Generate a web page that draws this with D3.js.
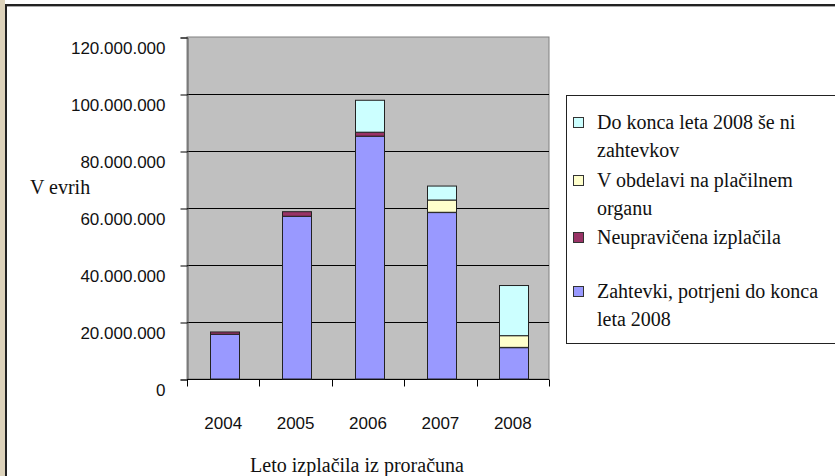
<!DOCTYPE html>
<html>
<head>
<meta charset="utf-8">
<script src="https://cdn.jsdelivr.net/npm/d3@7"></script>
<style>
  body { margin:0; background:#fff; }
  text { fill:#111; }
  .serif { font-family:"Liberation Serif", serif; font-size:20px; }
  .sans { font-family:"Liberation Sans", sans-serif; font-size:17px; }
</style>
</head>
<body>
<div id="chart"></div>
<script>
// data (EUR)
var years = ['2004', '2005', '2006', '2007', '2008'];
var potrjeni = [15700000, 57100000, 85200000, 58400000, 11000000];
var neupravicena = [800000, 1600000, 1400000, 100000, 100000];
var vObdelavi = [0, 0, 0, 4300000, 4100000];
var brezZahtevkov = [0, 0, 11200000, 4900000, 17600000];
var yTicks = [0, 20000000, 40000000, 60000000, 80000000, 100000000, 120000000];

var seriesKeys = ['potrjeni', 'neupr', 'obdel', 'brez'];
var colors = ['#9999ff', '#993366', '#ffffcc', '#ccffff'];

var W = 835, H = 476;
var plot = {left:187, right:549, top:37, bottom:379};

var svg = d3.select('#chart').append('svg')
    .attr('width', W).attr('height', H);

// frame
svg.append('rect').attr('x', 0).attr('y', 0).attr('width', 5).attr('height', H).attr('fill', '#ddd3bb');
svg.append('line').attr('x1', 6).attr('x2', 6).attr('y1', 4).attr('y2', H)
    .attr('stroke', '#222').attr('stroke-width', 2);
svg.append('line').attr('x1', 5).attr('x2', W).attr('y1', 5).attr('y2', 5)
    .attr('stroke', '#222').attr('stroke-width', 2);
svg.append('line').attr('x1', 7).attr('x2', W).attr('y1', 6.5).attr('y2', 6.5)
    .attr('stroke', '#aaa').attr('stroke-width', 1);

var table = years.map(function(y, i) {
    return {year:y, potrjeni:potrjeni[i], neupr:neupravicena[i], obdel:vObdelavi[i], brez:brezZahtevkov[i]};
});

var x = d3.scaleBand().domain(years).range([plot.left, plot.right]).padding(0);
var y = d3.scaleLinear().domain([0, 120000000]).range([plot.bottom, plot.top]);

var fmt = d3.formatLocale({decimal:',', thousands:'.', grouping:[3], currency:['', '€']}).format(',');

// plot area
svg.append('rect')
    .attr('x', plot.left).attr('y', plot.top)
    .attr('width', plot.right - plot.left).attr('height', plot.bottom - plot.top)
    .attr('fill', '#c0c0c0').attr('stroke', '#808080');

// gridlines
svg.selectAll('.grid').data(yTicks.slice(1, -1)).enter().append('line')
    .attr('x1', plot.left).attr('x2', plot.right)
    .attr('y1', function(d) { return Math.round(y(d)) + 0.5; })
    .attr('y2', function(d) { return Math.round(y(d)) + 0.5; })
    .attr('stroke', '#000').attr('stroke-width', 1);

// y axis
var yAxis = svg.append('g')
    .attr('transform', 'translate(' + (plot.left + 0.5) + ',0.5)')
    .call(d3.axisLeft(y).tickValues(yTicks).tickFormat(fmt).tickSize(7).tickPadding(0));
yAxis.select('.domain').attr('stroke', '#555');
yAxis.selectAll('.tick line').attr('stroke', '#000');
yAxis.selectAll('.tick text').attr('x', -22).attr('dy', '0.95em')
    .style('font-family', '"Liberation Sans", sans-serif').style('font-size', '17px').attr('fill', '#222');

// x axis
var xAxis = svg.append('g')
    .attr('transform', 'translate(0,' + (plot.bottom + 0.5) + ')');
xAxis.append('line').attr('x1', plot.left).attr('x2', plot.right).attr('stroke', '#000');
xAxis.selectAll('.xt').data(years.concat(['end'])).enter().append('line')
    .attr('x1', function(d, i) { return Math.round(plot.left + i * x.step()) + 0.5; })
    .attr('x2', function(d, i) { return Math.round(plot.left + i * x.step()) + 0.5; })
    .attr('y1', 0).attr('y2', 7).attr('stroke', '#000');
xAxis.selectAll('.xl').data(years).enter().append('text')
    .attr('class', 'sans')
    .attr('x', function(d) { return x(d) + x.bandwidth() / 2; })
    .attr('y', 49)
    .attr('text-anchor', 'middle')
    .attr('fill', '#222')
    .text(function(d) { return d; });

// stacked bars
var stack = d3.stack().keys(seriesKeys)(table);
var barW = 29;
svg.selectAll('.layer').data(stack).enter().append('g')
    .attr('fill', function(d, i) { return colors[i]; })
    .selectAll('rect').data(function(d) { return d.filter(function(p) { return p[1] - p[0] > 0; }); })
    .enter().append('rect')
    .attr('x', function(d) { return Math.round(x(d.data.year) + x.bandwidth() / 2 - barW / 2 + 1) + 0.5; })
    .attr('width', barW)
    .attr('y', function(d) { return y(d[1]); })
    .attr('height', function(d) { return y(d[0]) - y(d[1]); })
    .attr('stroke', '#222').attr('stroke-width', 1);

// axis titles
svg.append('text').attr('class', 'serif').attr('x', 30).attr('y', 194).text('V evrih');
svg.append('text').attr('class', 'serif').attr('x', 357).attr('y', 472)
    .attr('text-anchor', 'middle').text('Leto izplačila iz proračuna');

// legend
var legend = svg.append('g');
legend.append('rect').attr('x', 566.5).attr('y', 95.5).attr('width', 300).attr('height', 248)
    .attr('fill', '#fff').attr('stroke', '#222');
var legendItems = [
    {i:3, lines:['Do konca leta 2008 še ni', 'zahtevkov'], y:123},
    {i:2, lines:['V obdelavi na plačilnem', 'organu'], y:181},
    {i:1, lines:['Neupravičena izplačila'], y:238},
    {i:0, lines:['Zahtevki, potrjeni do konca', 'leta 2008'], y:292}
];
var li = legend.selectAll('.li').data(legendItems).enter().append('g');
li.append('rect')
    .attr('x', 573.5).attr('y', function(d) { return d.y - 5.5; })
    .attr('width', 10).attr('height', 10)
    .attr('fill', function(d) { return colors[d.i]; })
    .attr('stroke', '#333');
li.append('text').attr('class', 'serif')
    .attr('x', 597)
    .attr('y', function(d) { return d.y + 6; })
    .selectAll('tspan').data(function(d) { return d.lines; }).enter().append('tspan')
    .attr('x', 597)
    .attr('dy', function(d, i) { return i === 0 ? 0 : 28; })
    .text(function(d) { return d; });
</script>
</body>
</html>
